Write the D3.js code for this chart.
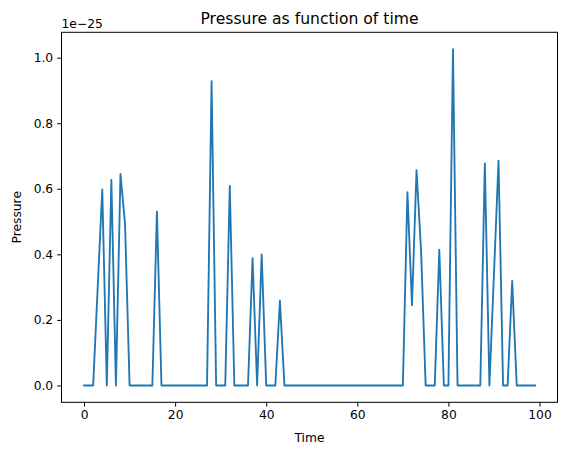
<!DOCTYPE html>
<html>
<head>
<meta charset="utf-8">
<script src="https://cdn.jsdelivr.net/npm/d3@7"></script>
<style>
  body { margin: 0; background: #fff; }
  svg { display: block; font-family: "DejaVu Sans", sans-serif; }
</style>
</head>
<body>
<div id="chart"></div>
<script>
// --- データ (圧力, 単位 1e-25) ---
const scaleExponent = -25;
const time = d3.range(100);
const pressure = [
  0, 0, 0, 0.30, 0.598, 0, 0.627, 0, 0.645, 0.493,
  0, 0, 0, 0, 0, 0, 0.530, 0, 0, 0,
  0, 0, 0, 0, 0, 0, 0, 0, 0.928, 0,
  0, 0, 0.609, 0, 0, 0, 0, 0.388, 0, 0.400,
  0, 0, 0, 0.259, 0, 0, 0, 0, 0, 0,
  0, 0, 0, 0, 0, 0, 0, 0, 0, 0,
  0, 0, 0, 0, 0, 0, 0, 0, 0, 0,
  0, 0.590, 0.245, 0.657, 0.41, 0, 0, 0, 0.414, 0,
  0, 1.026, 0, 0, 0, 0, 0, 0, 0.677, 0,
  0.34, 0.686, 0, 0, 0.319, 0, 0, 0, 0, 0
];
const xTicks = [0, 20, 40, 60, 80, 100];
const yTicks = [0, 0.2, 0.4, 0.6, 0.8, 1.0];

// --- レイアウト ---
const width = 567, height = 455;
const plot = { left: 61.5, right: 557.5, top: 32.3, bottom: 402.3 };

const svg = d3.select('#chart').append('svg')
  .attr('width', width)
  .attr('height', height);

// matplotlib風の5%マージン
const xMin = d3.min(time), xMax = d3.max(time);
const xPad = (xMax - xMin) * 0.05;
const yMax = d3.max(pressure), yMin = d3.min(pressure);
const yPad = (yMax - yMin) * 0.05;

const x = d3.scaleLinear()
  .domain([xMin - xPad, xMax + xPad])
  .range([plot.left, plot.right]);
const y = d3.scaleLinear()
  .domain([yMin - yPad, yMax + yPad])
  .range([plot.bottom, plot.top]);

// 折れ線
const line = d3.line()
  .x((d, i) => x(time[i]))
  .y(d => y(d));

svg.append('path')
  .datum(pressure)
  .attr('fill', 'none')
  .attr('stroke', '#1f77b4')
  .attr('stroke-width', 1.85)
  .attr('stroke-linejoin', 'round')
  .attr('stroke-linecap', 'square')
  .attr('d', line);

// 軸
const xAxis = svg.append('g')
  .attr('transform', `translate(0,${plot.bottom})`)
  .call(d3.axisBottom(x).tickValues(xTicks).tickSize(4.3).tickPadding(4).tickFormat(d3.format('d')));
const yAxis = svg.append('g')
  .attr('transform', `translate(${plot.left},0)`)
  .call(d3.axisLeft(y).tickValues(yTicks).tickSize(4.3).tickPadding(4).tickFormat(d3.format('.1f')));

[xAxis, yAxis].forEach(g => {
  g.select('.domain').remove();
  g.selectAll('line').attr('stroke', '#000').attr('stroke-width', 1);
  g.selectAll('text').attr('fill', '#000').style('font-size', '12.3px').style('font-family', '"DejaVu Sans", sans-serif');
});

// 枠
svg.append('rect')
  .attr('x', plot.left)
  .attr('y', plot.top)
  .attr('width', plot.right - plot.left)
  .attr('height', plot.bottom - plot.top)
  .attr('fill', 'none')
  .attr('stroke', '#000')
  .attr('stroke-width', 1);

// テキスト
svg.append('text')
  .attr('x', plot.left)
  .attr('y', plot.top - 4.5)
  .style('font-size', '12.3px')
  .text(`1e\u2212${-scaleExponent}`);

svg.append('text')
  .attr('x', (plot.left + plot.right) / 2)
  .attr('y', 24)
  .attr('text-anchor', 'middle')
  .style('font-size', '15.6px')
  .text('Pressure as function of time');

svg.append('text')
  .attr('x', (plot.left + plot.right) / 2)
  .attr('y', 441.5)
  .attr('text-anchor', 'middle')
  .style('font-size', '12.3px')
  .text('Time');

svg.append('text')
  .attr('transform', `translate(20.5,${(plot.top + plot.bottom) / 2}) rotate(-90)`)
  .attr('text-anchor', 'middle')
  .style('font-size', '12.3px')
  .text('Pressure');
</script>
</body>
</html>
